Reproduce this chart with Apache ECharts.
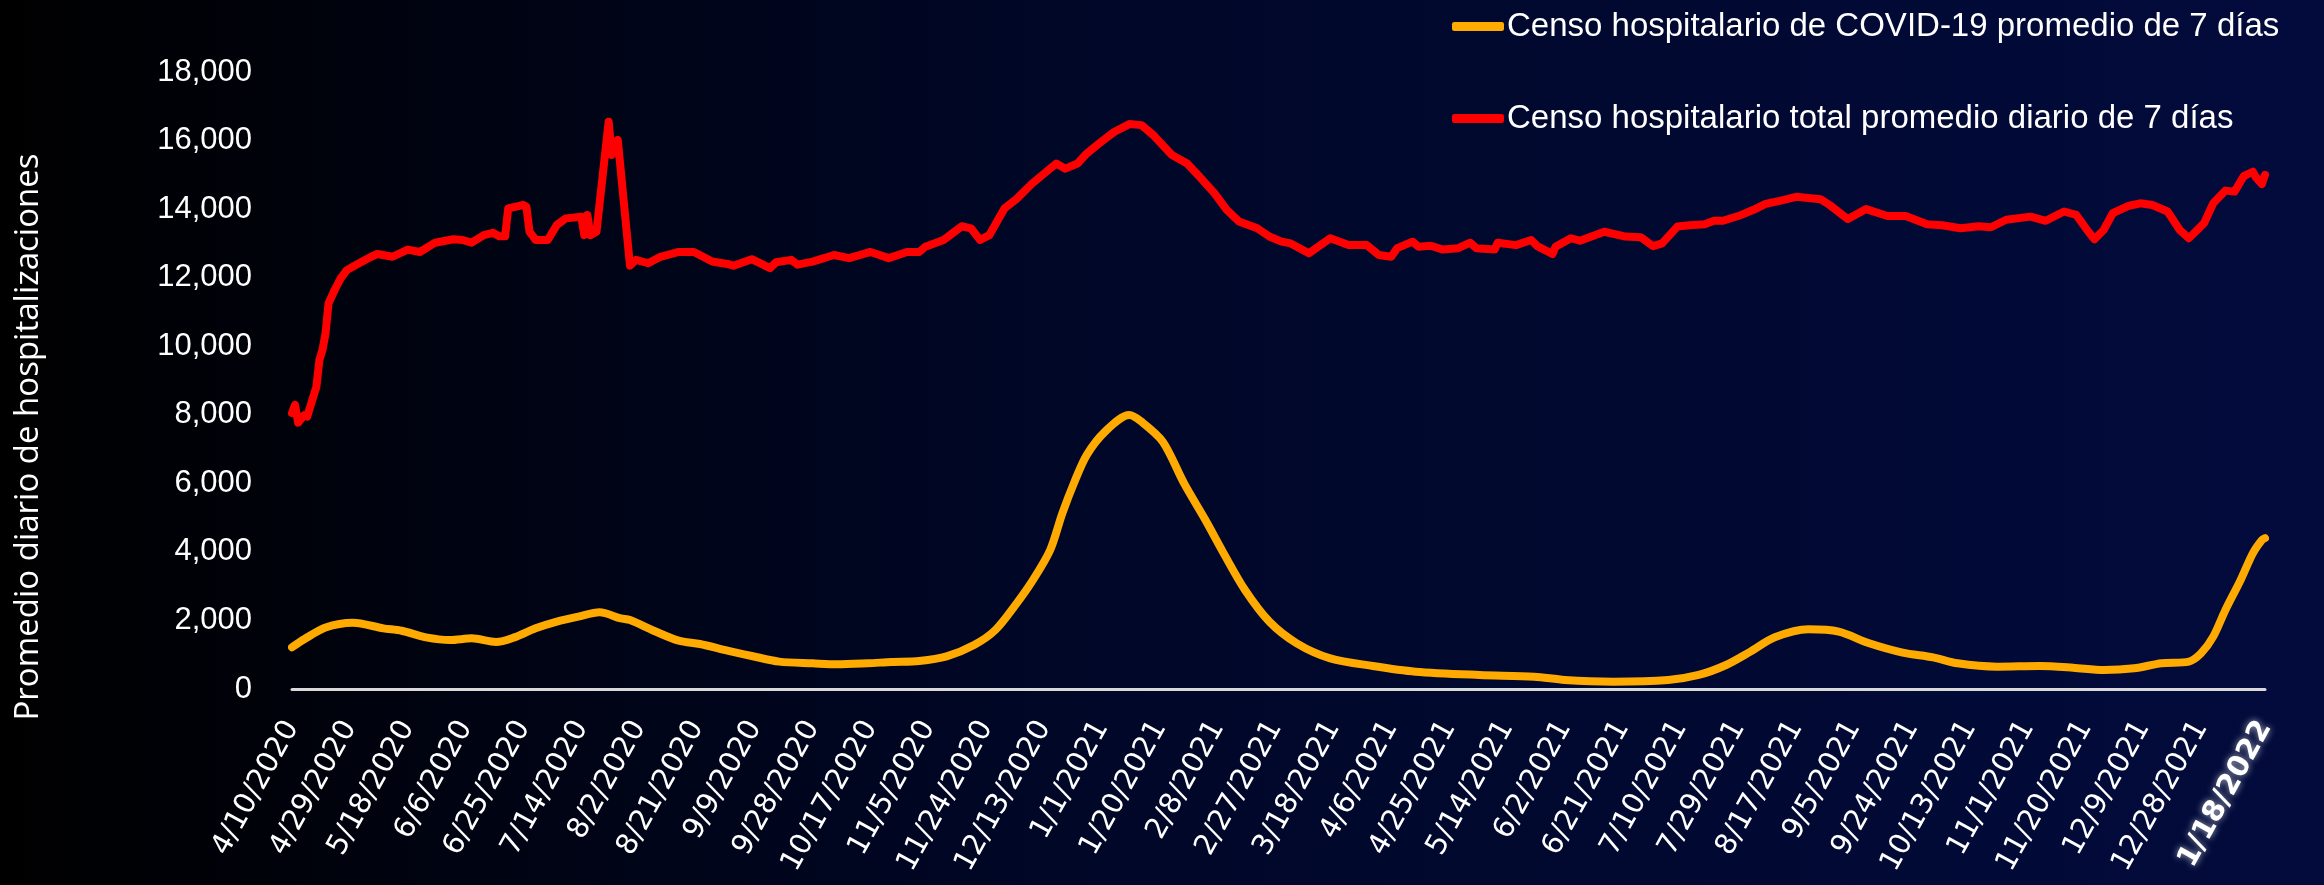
<!DOCTYPE html>
<html>
<head>
<meta charset="utf-8">
<title>Censo hospitalario</title>
<script src="https://cdn.jsdelivr.net/npm/echarts@6/dist/echarts.min.js"></script>
<style>
  html, body { margin: 0; padding: 0; background: #000; }
  #chart { width: 2324px; height: 885px; }
</style>
</head>
<body>
<div id="chart"></div>
<script>
// etiquetas del eje x: una cada 19 días desde 4/10/2020 (día 0)
var tickLabels = [
  '4/10/2020', '4/29/2020', '5/18/2020', '6/6/2020', '6/25/2020', '7/14/2020',
  '8/2/2020', '8/21/2020', '9/9/2020', '9/28/2020', '10/17/2020', '11/5/2020',
  '11/24/2020', '12/13/2020', '1/1/2021', '1/20/2021', '2/8/2021', '2/27/2021',
  '3/18/2021', '4/6/2021', '4/25/2021', '5/14/2021', '6/2/2021', '6/21/2021',
  '7/10/2021', '7/29/2021', '8/17/2021', '9/5/2021', '9/24/2021', '10/13/2021',
  '11/1/2021', '11/20/2021', '12/9/2021', '12/28/2021'
];
var lastDay = 648;
var lastLabel = '1/18/2022';

var covidName = 'Censo hospitalario de COVID-19 promedio de 7 días';
var totalName = 'Censo hospitalario total promedio diario de 7 días';

// censo COVID-19 (día desde 4/10/2020, valor)
var covidDays = [0, 4, 11, 20, 30, 36, 44, 52, 59, 67, 73, 80, 87, 94, 101, 108, 111, 119, 127, 134,
  143, 151, 160, 171, 179, 189, 197, 206, 215, 224, 231, 238, 243, 249, 253, 257, 261, 267, 275, 279,
  286, 293, 300, 306, 313, 321, 330, 341, 355, 369, 390, 408, 418, 434, 452, 462, 471, 479, 487, 498,
  508, 518, 529, 539, 547, 560, 574, 585, 595, 605, 614, 623, 627, 631, 635, 640, 644, 647, 648];
var covidValues = [1216, 1450, 1795, 1935, 1770, 1700, 1507, 1430, 1478, 1372, 1507, 1770, 1965, 2110, 2236, 2060, 2013, 1692, 1410, 1313,
  1118, 963, 798, 750, 720, 750, 788, 817, 950, 1283, 1721, 2499, 3131, 4054, 5124, 6047, 6825, 7506, 7992, 7797,
  7214, 5999, 4929, 3957, 2888, 1965, 1333, 895, 671, 506, 409, 360, 263, 214, 263, 409, 700, 1090, 1507, 1741,
  1673, 1333, 1061, 924, 750, 652, 671, 622, 554, 603, 750, 798, 1041, 1527, 2305, 3180, 3957, 4346, 4400];

// censo total
var totalDays = [0, 1, 2, 4, 5, 7, 8, 9, 10, 11, 12, 14, 16, 18, 22, 26, 28, 33, 38, 42,
  47, 53, 56, 59, 63, 66, 68, 70, 71, 76, 77, 78, 80, 84, 87, 90, 95, 96, 97, 98,
  100, 104, 105, 107, 111, 113, 117, 121, 127, 132, 138, 143, 145, 151, 157, 159, 164, 166, 171, 178,
  183, 190, 196, 202, 206, 208, 214, 220, 223, 226, 229, 234, 238, 243, 251, 254, 258, 261, 265, 270,
  275, 279, 283, 289, 294, 298, 303, 307, 311, 317, 321, 325, 328, 334, 341, 347, 353, 357, 361, 363,
  368, 370, 374, 378, 383, 387, 389, 395, 396, 402, 407, 409, 414, 415, 420, 423, 431, 438, 443, 447,
  450, 455, 459, 464, 467, 470, 476, 480, 484, 489, 494, 502, 505, 511, 517, 524, 530, 537, 542, 548,
  554, 558, 563, 571, 576, 582, 586, 590, 592, 595, 598, 603, 607, 611, 616, 620, 623, 628, 631, 635,
  638, 641, 644, 645, 647, 648];
var totalValues = [8050, 8290, 7770, 7990, 7950, 8530, 8810, 9600, 9890, 10370, 11250, 11640, 11980, 12220, 12420, 12610, 12690, 12610, 12820, 12750,
  13020, 13120, 13100, 13020, 13240, 13310, 13210, 13210, 14020, 14120, 14070, 13340, 13100, 13100, 13540, 13730, 13780, 13240, 13830, 13240,
  13340, 16550, 15580, 16020, 12350, 12520, 12420, 12610, 12750, 12750, 12470, 12400, 12350, 12540, 12280, 12450, 12520, 12380, 12470, 12660,
  12570, 12750, 12570, 12750, 12750, 12900, 13100, 13500, 13440, 13100, 13240, 14020, 14300, 14740, 15330, 15180, 15330, 15620, 15910, 16250,
  16480, 16450, 16150, 15580, 15330, 14950, 14460, 13980, 13640, 13440, 13200, 13050, 13000, 12710, 13150, 12950, 12950, 12660, 12610, 12860,
  13050, 12900, 12930, 12820, 12860, 13020, 12860, 12820, 13020, 12950, 13100, 12920, 12690, 12900, 13150, 13080, 13340, 13200, 13180, 12920,
  13000, 13490, 13530, 13560, 13660, 13660, 13830, 13980, 14150, 14250, 14360, 14290, 14120, 13710, 14000, 13800, 13800, 13560, 13530, 13440,
  13500, 13470, 13690, 13780, 13660, 13930, 13830, 13340, 13120, 13390, 13880, 14090, 14170, 14120, 13930, 13390, 13150, 13590, 14170, 14540,
  14510, 14960, 15090, 14930, 14730, 15000];

function pairs(days, values) {
  return days.map(function (d, i) { return [d, values[i]]; });
}

var sans = "'Liberation Sans', Arial, sans-serif";
var dejavu = "'DejaVu Sans', sans-serif";

var chart = echarts.init(document.getElementById('chart'));

var option = {
  backgroundColor: new echarts.graphic.LinearGradient(0, 0, 1, 0, [
    { offset: 0, color: '#000000' },
    { offset: 0.45, color: '#000727' },
    { offset: 1, color: '#020b3c' }
  ]),
  animation: false,
  grid: {
    left: 292,
    right: 59,
    top: 72,
    bottom: 196,
    containLabel: false,
    outerBoundsMode: 'none'
  },
  legend: {
    orient: 'vertical',
    left: 1452,
    top: 10,
    padding: 0,
    itemGap: 59,
    itemWidth: 52,
    itemHeight: 9,
    icon: 'roundRect',
    data: [covidName, totalName],
    textStyle: {
      color: '#ffffff',
      fontSize: 33,
      fontFamily: sans,
      padding: [0, 0, 0, -2]
    }
  },
  graphic: [
    {
      type: 'text',
      x: 29,
      y: 437,
      rotation: Math.PI / 2,
      style: {
        text: 'Promedio diario de hospitalizaciones',
        fill: '#ffffff',
        font: "33px 'Open Sans', sans-serif",
        textAlign: 'center',
        textVerticalAlign: 'middle'
      }
    }
  ],
  xAxis: {
    type: 'value',
    min: 0,
    max: lastDay,
    interval: 19,
    axisLine: { show: true, lineStyle: { color: '#d9d9d9', width: 3 } },
    axisTick: { show: false },
    splitLine: { show: false },
    axisLabel: {
      color: '#ffffff',
      fontSize: 29,
      fontFamily: dejavu,
      rotate: 61,
      margin: 34,
      showMinLabel: true,
      showMaxLabel: true,
      hideOverlap: false,
      formatter: function (v) {
        if (v === lastDay) return '{b|' + lastLabel + '}';
        var k = v / 19;
        if (Number.isInteger(k) && k < tickLabels.length) return tickLabels[k];
        return '';
      },
      rich: {
        b: {
          color: '#ffffff',
          fontSize: 29,
          fontWeight: 'bold',
          fontFamily: dejavu,
          textShadowColor: 'rgba(255,255,255,0.7)',
          textShadowBlur: 7
        }
      }
    }
  },
  yAxis: {
    type: 'value',
    min: 0,
    max: 18000,
    interval: 2000,
    axisLine: { show: false },
    axisTick: { show: false },
    splitLine: { show: false },
    axisLabel: {
      color: '#ffffff',
      fontSize: 31,
      fontFamily: sans,
      margin: 40,
      formatter: function (v) { return v.toLocaleString('en-US'); }
    }
  },
  series: [
    {
      name: covidName,
      type: 'line',
      data: pairs(covidDays, covidValues),
      symbol: 'none',
      smooth: 0.3,
      color: '#ffaa00',
      lineStyle: { color: '#ffaa00', width: 8, cap: 'round', join: 'round' }
    },
    {
      name: totalName,
      type: 'line',
      data: pairs(totalDays, totalValues),
      symbol: 'none',
      color: '#ff0000',
      lineStyle: { color: '#ff0000', width: 8, cap: 'round', join: 'round' }
    }
  ]
};

chart.setOption(option);
</script>
</body>
</html>
